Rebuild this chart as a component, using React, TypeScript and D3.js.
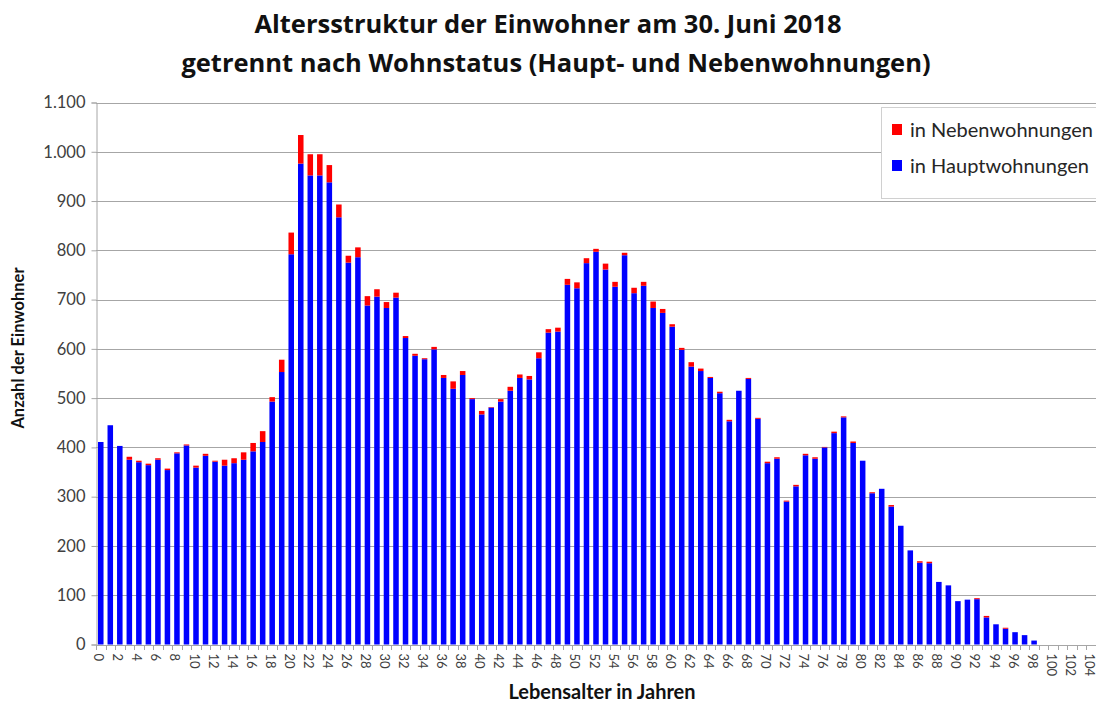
import React, { useEffect, useRef } from "react";
import * as d3 from "d3";

// Alter 0..104
const ages = d3.range(0, 105).map(String);

// Einwohner in Hauptwohnungen je Altersjahr
const haupt = [
  411, 445, 403, 375, 370, 364, 375, 354, 388, 404,
  359, 383, 371, 363, 368, 375, 392, 411, 493, 553,
  792, 976, 952, 952, 938, 867, 775, 786, 688, 706,
  683, 704, 622, 586, 579, 599, 541, 519, 547, 498,
  467, 481, 493, 515, 541, 538, 581, 633, 635, 730,
  723, 774, 797, 761, 726, 790, 713, 728, 683, 673,
  645, 598, 564, 555, 541, 510, 453, 515, 539, 458,
  368, 377, 290, 321, 384, 377, 400, 429, 461, 409,
  373, 307, 316, 280, 241, 191, 166, 165, 127, 120,
  88, 91, 92, 55, 41, 32, 25, 19, 8, 0,
  0, 0, 0, 0, 0,
];

// Einwohner in Nebenwohnungen je Altersjahr
const neben = [
  0, 0, 0, 6, 3, 3, 3, 3, 2, 2,
  4, 4, 2, 12, 10, 15, 17, 22, 9, 25,
  44, 58, 43, 43, 35, 26, 14, 20, 19, 15,
  12, 10, 4, 4, 2, 5, 6, 15, 8, 2,
  7, 1, 5, 8, 7, 7, 12, 7, 8, 12,
  12, 10, 6, 12, 10, 5, 11, 8, 13, 8,
  5, 4, 9, 5, 2, 3, 3, 0, 2, 2,
  3, 3, 2, 3, 3, 3, 1, 3, 2, 3,
  0, 2, 0, 3, 0, 0, 3, 3, 0, 0,
  0, 0, 2, 3, 0, 2, 0, 0, 0, 0,
  0, 0, 0, 0, 0,
];

const yTicks = d3.range(0, 1101, 100);

const W = 1096;
const H = 706;
const font = "Lato, 'Open Sans', sans-serif";
const titleFont = "'Open Sans', Lato, sans-serif";

export default function App() {
  const ref = useRef<SVGSVGElement>(null);

  useEffect(() => {
    const svg = d3.select(ref.current);
    svg.selectAll("*").remove();

    const left = 96, right = 1096, top = 102.5, bottom = 644.5;

    const x = d3.scaleBand<string>()
      .domain(ages)
      .range([left, right])
      .paddingInner(0.42)
      .paddingOuter(0.21);

    const y = d3.scaleLinear().domain([0, 1100]).range([bottom, top]);

    const rows = ages.map((a, i) => ({ age: a, haupt: haupt[i], neben: neben[i] }));
    const series = d3.stack<any>().keys(["haupt", "neben"])(rows);
    const colours: Record<string, string> = { haupt: "#0000ff", neben: "#ff0000" };

    // gridlines
    svg.append("g")
      .selectAll("line")
      .data(yTicks.slice(1))
      .enter()
      .append("line")
      .attr("x1", left)
      .attr("x2", right)
      .attr("y1", (d) => Math.round(y(d)) + 0.5)
      .attr("y2", (d) => Math.round(y(d)) + 0.5)
      .attr("stroke", "#a6a6a6")
      .attr("stroke-width", 1);

    // bars
    svg.append("g")
      .selectAll("g")
      .data(series)
      .enter()
      .append("g")
      .attr("fill", (s) => colours[s.key])
      .selectAll("rect")
      .data((s) => s)
      .enter()
      .append("rect")
      .attr("x", (d: any) => x(d.data.age)!)
      .attr("width", x.bandwidth())
      .attr("y", (d) => y(d[1]))
      .attr("height", (d) => y(d[0]) - y(d[1]));

    // y axis
    const yAxis = svg.append("g")
      .attr("transform", `translate(${left + 0.5},0)`)
      .call(d3.axisLeft(y).tickValues(yTicks).tickSize(5).tickPadding(6)
        .tickFormat((d) => d3.format(",")(d as number).replace(/,/g, ".")));
    yAxis.select(".domain").attr("stroke", "#a6a6a6");
    yAxis.selectAll(".tick line").attr("stroke", "#a6a6a6");
    yAxis.selectAll(".tick text")
      .attr("font-family", font)
      .attr("font-size", 16.5)
      .attr("fill", "#404040");

    // x axis
    const xg = svg.append("g");
    xg.append("line")
      .attr("x1", left).attr("x2", right)
      .attr("y1", Math.round(bottom) + 0.5).attr("y2", Math.round(bottom) + 0.5)
      .attr("stroke", "#a6a6a6");
    const step = x.step();
    xg.selectAll("line.tk")
      .data(d3.range(0, ages.length + 1))
      .enter()
      .append("line")
      .attr("class", "tk")
      .attr("x1", (i) => Math.round(left + i * step) + 0.5)
      .attr("x2", (i) => Math.round(left + i * step) + 0.5)
      .attr("y1", Math.round(bottom))
      .attr("y2", Math.round(bottom) + 5)
      .attr("stroke", "#a6a6a6");
    xg.selectAll("text")
      .data(ages.filter((_, i) => i % 2 === 0))
      .enter()
      .append("text")
      .attr("transform", (a) => `translate(${x(a)! + x.bandwidth() / 2 - 1.5},${bottom + 9}) rotate(90)`)
      .attr("dominant-baseline", "central")
      .attr("font-family", font)
      .attr("font-size", 13)
      .attr("fill", "#404040")
      .text((a) => a);

    // axis titles
    svg.append("text")
      .attr("transform", `translate(24,348) rotate(-90)`)
      .attr("text-anchor", "middle")
      .attr("font-family", font)
      .attr("font-weight", "bold")
      .attr("font-size", 16.5)
      .attr("fill", "#111")
      .text("Anzahl der Einwohner");
    svg.append("text")
      .attr("x", 602)
      .attr("y", 699)
      .attr("text-anchor", "middle")
      .attr("font-family", font)
      .attr("font-weight", "bold")
      .attr("font-size", 20)
      .attr("fill", "#111")
      .text("Lebensalter in Jahren");

    // title
    const title = svg.append("text")
      .attr("text-anchor", "middle")
      .attr("font-family", titleFont)
      .attr("font-weight", "bold")
      .attr("font-size", 25.5)
      .attr("fill", "#111");
    title.append("tspan").attr("x", 548).attr("y", 33).text("Altersstruktur der Einwohner am 30. Juni 2018");
    title.append("tspan").attr("x", 556).attr("y", 72).text("getrennt nach Wohnstatus (Haupt- und Nebenwohnungen)");

    // legend
    const lg = svg.append("g");
    lg.append("rect")
      .attr("x", 881.5).attr("y", 107.5)
      .attr("width", 220).attr("height", 91)
      .attr("fill", "#fff")
      .attr("stroke", "#d0d0d0");
    const items = [
      { label: "in Nebenwohnungen", key: "neben", yy: 130 },
      { label: "in Hauptwohnungen", key: "haupt", yy: 166 },
    ];
    items.forEach((it) => {
      lg.append("rect")
        .attr("x", 892).attr("y", it.yy - 6)
        .attr("width", 10).attr("height", 11)
        .attr("fill", colours[it.key]);
      lg.append("text")
        .attr("x", 910).attr("y", it.yy + 7)
        .attr("font-family", font)
        .attr("font-size", 20)
        .attr("fill", "#262626")
        .text(it.label);
    });
  }, []);

  return (
    <div className="wrapper">
      <svg ref={ref} width={W} height={H} style={{ display: "block", position: "absolute", left: 0, top: 0 }} />
    </div>
  );
}
